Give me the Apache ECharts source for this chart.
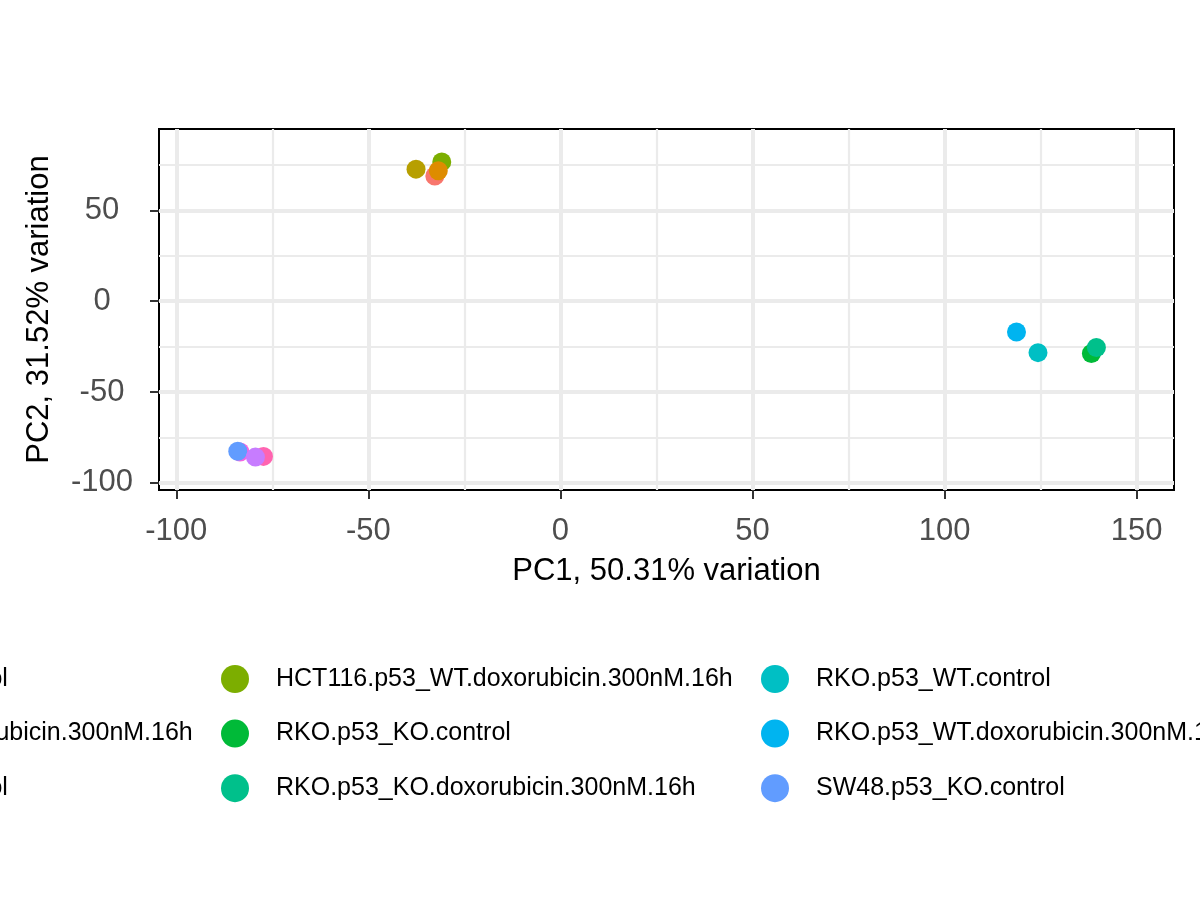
<!DOCTYPE html>
<html>
<head>
<meta charset="utf-8">
<script src="https://cdn.jsdelivr.net/npm/echarts@6/dist/echarts.min.js"></script>
<style>
  html, body { margin: 0; padding: 0; background: #fff; }
  #main { width: 1200px; height: 900px; }
</style>
</head>
<body>
<div id="main"></div>
<script>
// groups, in legend order
const groups = [
  'HCT116.p53_KO.control', 'HCT116.p53_KO.doxorubicin.300nM.16h', 'HCT116.p53_WT.control',
  'HCT116.p53_WT.doxorubicin.300nM.16h', 'RKO.p53_KO.control', 'RKO.p53_KO.doxorubicin.300nM.16h',
  'RKO.p53_WT.control', 'RKO.p53_WT.doxorubicin.300nM.16h', 'SW48.p53_KO.control',
  'SW48.p53_KO.doxorubicin.300nM.16h', 'SW48.p53_WT.control', 'SW48.p53_WT.doxorubicin.300nM.16h'
]
const palette = ['#F8766D', '#DE8C00', '#B79F00', '#7CAE00', '#00BA38', '#00C08B',
  '#00BFC4', '#00B4F0', '#619CFF', '#C77CFF', '#F564E3', '#FF64B0']

// samples in plotting order
const sampleGroup = [
  'HCT116.p53_WT.control', 'HCT116.p53_WT.doxorubicin.300nM.16h', 'HCT116.p53_KO.control', 'HCT116.p53_KO.doxorubicin.300nM.16h',
  'RKO.p53_WT.control', 'RKO.p53_WT.doxorubicin.300nM.16h', 'RKO.p53_KO.control', 'RKO.p53_KO.doxorubicin.300nM.16h',
  'SW48.p53_WT.control', 'SW48.p53_WT.doxorubicin.300nM.16h', 'SW48.p53_KO.control', 'SW48.p53_KO.doxorubicin.300nM.16h'
]
const pc1 = [-37.6, -30.9, -32.7, -31.8, 124.3, 118.7, 138.2, 139.5, -83.4, -77.3, -84.0, -79.4]
const pc2 = [72.7, 76.7, 68.9, 71.8, -28.3, -16.9, -28.8, -25.5, -83.0, -85.4, -82.6, -85.8]

const xTicks = [-100, -50, 0, 50, 100, 150]
const yTicks = [-100, -50, 0, 50]
const xMinor = [-75, -25, 25, 75, 125]
const yMinor = [-75, -25, 25, 75]

const font = 'Liberation Sans, Arial, sans-serif'
const myChart = echarts.init(document.getElementById('main'))

const pointSeries = sampleGroup.map((g, i) => ({
  name: g,
  type: 'scatter',
  symbolSize: 19,
  itemStyle: { color: palette[groups.indexOf(g)], opacity: 1 },
  z: 3,
  emphasis: { disabled: true },
  data: [[pc1[i], pc2[i]]]
}))

const gridSeries = (xs, ys, width) => ({
  type: 'scatter',
  data: [],
  z: 1,
  silent: true,
  markLine: {
    z: 1,
    silent: true,
    symbol: 'none',
    animation: false,
    label: { show: false },
    lineStyle: { color: '#EBEBEB', width: width, type: 'solid' },
    emphasis: { disabled: true },
    data: xs.map(v => ({ xAxis: v })).concat(ys.map(v => ({ yAxis: v })))
  }
})

// legend: 4 columns x 3 rows, wider than the canvas (clipped on both sides)
const colLeft = [-319, 221, 761, 1301]
const legends = colLeft.map((left, c) => ({
  orient: 'vertical',
  left: left,
  top: 665,
  padding: 0,
  itemWidth: 72,
  itemHeight: 28,
  itemGap: 26.6,
  icon: 'circle',
  selectedMode: false,
  textStyle: { fontSize: 25, color: '#000', fontFamily: font },
  data: groups.slice(c * 3, c * 3 + 3)
}))

myChart.setOption({
  animation: false,
  backgroundColor: '#fff',
  textStyle: { fontFamily: font },
  grid: {
    left: 159, right: 26, top: 129, bottom: 410,
    show: true, borderColor: '#000', borderWidth: 2, backgroundColor: '#fff'
  },
  legend: legends,
  xAxis: {
    type: 'value',
    min: -104.5,
    max: 159.7,
    name: 'PC1, 50.31% variation',
    nameLocation: 'middle',
    nameGap: 66,
    nameTextStyle: { fontSize: 31, color: '#000', fontFamily: font },
    axisLine: { show: true, onZero: false, lineStyle: { color: '#000', width: 2 } },
    axisTick: { show: true, length: 9, lineStyle: { color: '#333', width: 2 }, customValues: xTicks },
    axisLabel: { fontSize: 31, color: '#4D4D4D', margin: 26, customValues: xTicks, fontFamily: font },
    splitLine: { show: false }
  },
  yAxis: {
    type: 'value',
    min: -103.9,
    max: 94.8,
    name: 'PC2, 31.52% variation',
    nameLocation: 'middle',
    nameGap: 104,
    nameTextStyle: { fontSize: 31, color: '#000', fontFamily: font },
    axisLine: { show: true, onZero: false, lineStyle: { color: '#000', width: 2 } },
    axisTick: { show: true, length: 9, lineStyle: { color: '#333', width: 2 }, customValues: yTicks },
    axisLabel: { fontSize: 31, color: '#4D4D4D', margin: 57, align: 'center', padding: [4, 0, 0, 0], customValues: yTicks, fontFamily: font },
    splitLine: { show: false }
  },
  series: [gridSeries(xMinor, yMinor, 2.2), gridSeries(xTicks, yTicks, 4)].concat(pointSeries)
})
</script>
</body>
</html>
